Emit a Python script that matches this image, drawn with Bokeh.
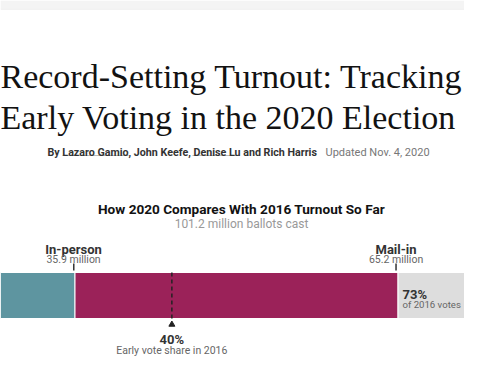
from bokeh.plotting import figure
from bokeh.models import Range1d, Label, BoxAnnotation
from bokeh.embed import file_html
from bokeh.resources import INLINE

# ---- data ----
in_person = 35.9          # million
mail_in = 65.2            # million
total_2020 = 101.2        # million ballots cast
share_of_2016 = 73        # percent of 2016 votes
early_share_2016 = 40     # percent early vote share in 2016
total_2016 = total_2020 / (share_of_2016 / 100.0)

seg_names = ["In-person", "Mail-in", "Remaining"]
seg_left = [0, in_person, in_person + mail_in]
seg_right = [in_person, in_person + mail_in, total_2016]
seg_colors = ["#5e95a0", "#9b2259", "#dddddd"]

headline = ["Record-Setting Turnout: Tracking", "Early Voting in the 2020 Election"]
byline_bold = "By Lazaro Gamio, John Keefe, Denise Lu and Rich Harris"
byline_date = "Updated Nov. 4, 2020"
chart_title = "How 2020 Compares With 2016 Turnout So Far"
chart_sub = f"{total_2020} million ballots cast"

W, H = 464, 368
X0, X1 = 20.86, 114.52
p = figure(frame_width=W, frame_height=H, output_backend="svg", toolbar_location=None,
           x_range=Range1d(X0, X1), y_range=Range1d(H, 0),
           x_axis_type=None, y_axis_type=None, min_border=0,
           background_fill_color="white", border_fill_color="white")
p.grid.visible = False
p.outline_line_color = None

def px(x):
    return X0 + x * (X1 - X0) / W

SANS = "Roboto"
DARK = "#333333"
GRAY = "#666666"

# page header strip
p.add_layout(BoxAnnotation(top=0, bottom=8, fill_color="#f4f4f4", fill_alpha=1,
                           line_color=None))
p.segment(x0=[px(0)], y0=[8.5], x1=[px(W)], y1=[8.5], line_color="#e6e6e6", line_width=1)

# bars
p.hbar(y=295, height=46, left=seg_left, right=seg_right, color=seg_colors,
       line_color="white", line_width=1)

# ticks at segment ends
tick_x = [in_person - 0.25, in_person + mail_in - 0.4]
p.segment(x0=tick_x, y0=[263, 263], x1=tick_x, y1=[270, 270],
          line_color=DARK, line_width=1.5)

# 2016 early-vote share marker
early_x = total_2016 * early_share_2016 / 100.0
p.segment(x0=[early_x], y0=[272], x1=[early_x], y1=[318],
          line_color="#222222", line_width=1.5, line_dash="4 3")
p.scatter(x=[early_x], y=[324], marker="triangle", size=6, color="#222222")

def lab(x, y, text, size, color, style="normal", align="left", font=SANS,
        xu="data"):
    p.add_layout(Label(x=x, y=y, x_units=xu, text=text, text_font=font,
                       text_font_size=f"{size}px", text_color=color,
                       text_font_style=style, text_align=align,
                       text_baseline="alphabetic"))

# headline
lab(0, 76, headline[0], 34, "#121212", font="Liberation Serif", xu="screen")
lab(0, 117, headline[1], 34, "#121212", font="Liberation Serif", xu="screen")

# byline
lab(47, 152, byline_bold, 10.7, DARK, "bold", xu="screen")
lab(325, 152, byline_date, 11, "#777777", xu="screen")
p.segment(x0=[px(62), px(192)], y0=[155, 155], x1=[px(128), px(239)], y1=[155, 155],
          line_color="#bbbbbb", line_width=1)

# chart title
lab(241, 208, chart_title, 13.6, "#121212", "bold", "center", xu="screen")
lab(241, 223, chart_sub, 12, "#999999", "normal", "center", xu="screen")

# segment labels
lab(in_person - 0.3, 249, seg_names[0], 13, DARK, "bold", "center")
lab(in_person - 0.3, 259, f"{in_person} million", 10.5, GRAY, "normal", "center")
lab(in_person + mail_in - 0.4, 249, seg_names[1], 13, DARK, "bold", "center")
lab(in_person + mail_in - 0.4, 259, f"{mail_in} million", 10.5, GRAY, "normal", "center")

lab(in_person + mail_in + 0.9, 293.5, f"{share_of_2016}%", 13, DARK, "bold")
lab(in_person + mail_in + 0.9, 303.5, "of 2016 votes", 9.6, GRAY)

lab(early_x, 339, f"{early_share_2016}%", 13, DARK, "bold", "center")
lab(early_x, 349.5, "Early vote share in 2016", 10.5, GRAY, "normal", "center")

open("out.html", "w").write(file_html(p, INLINE))
